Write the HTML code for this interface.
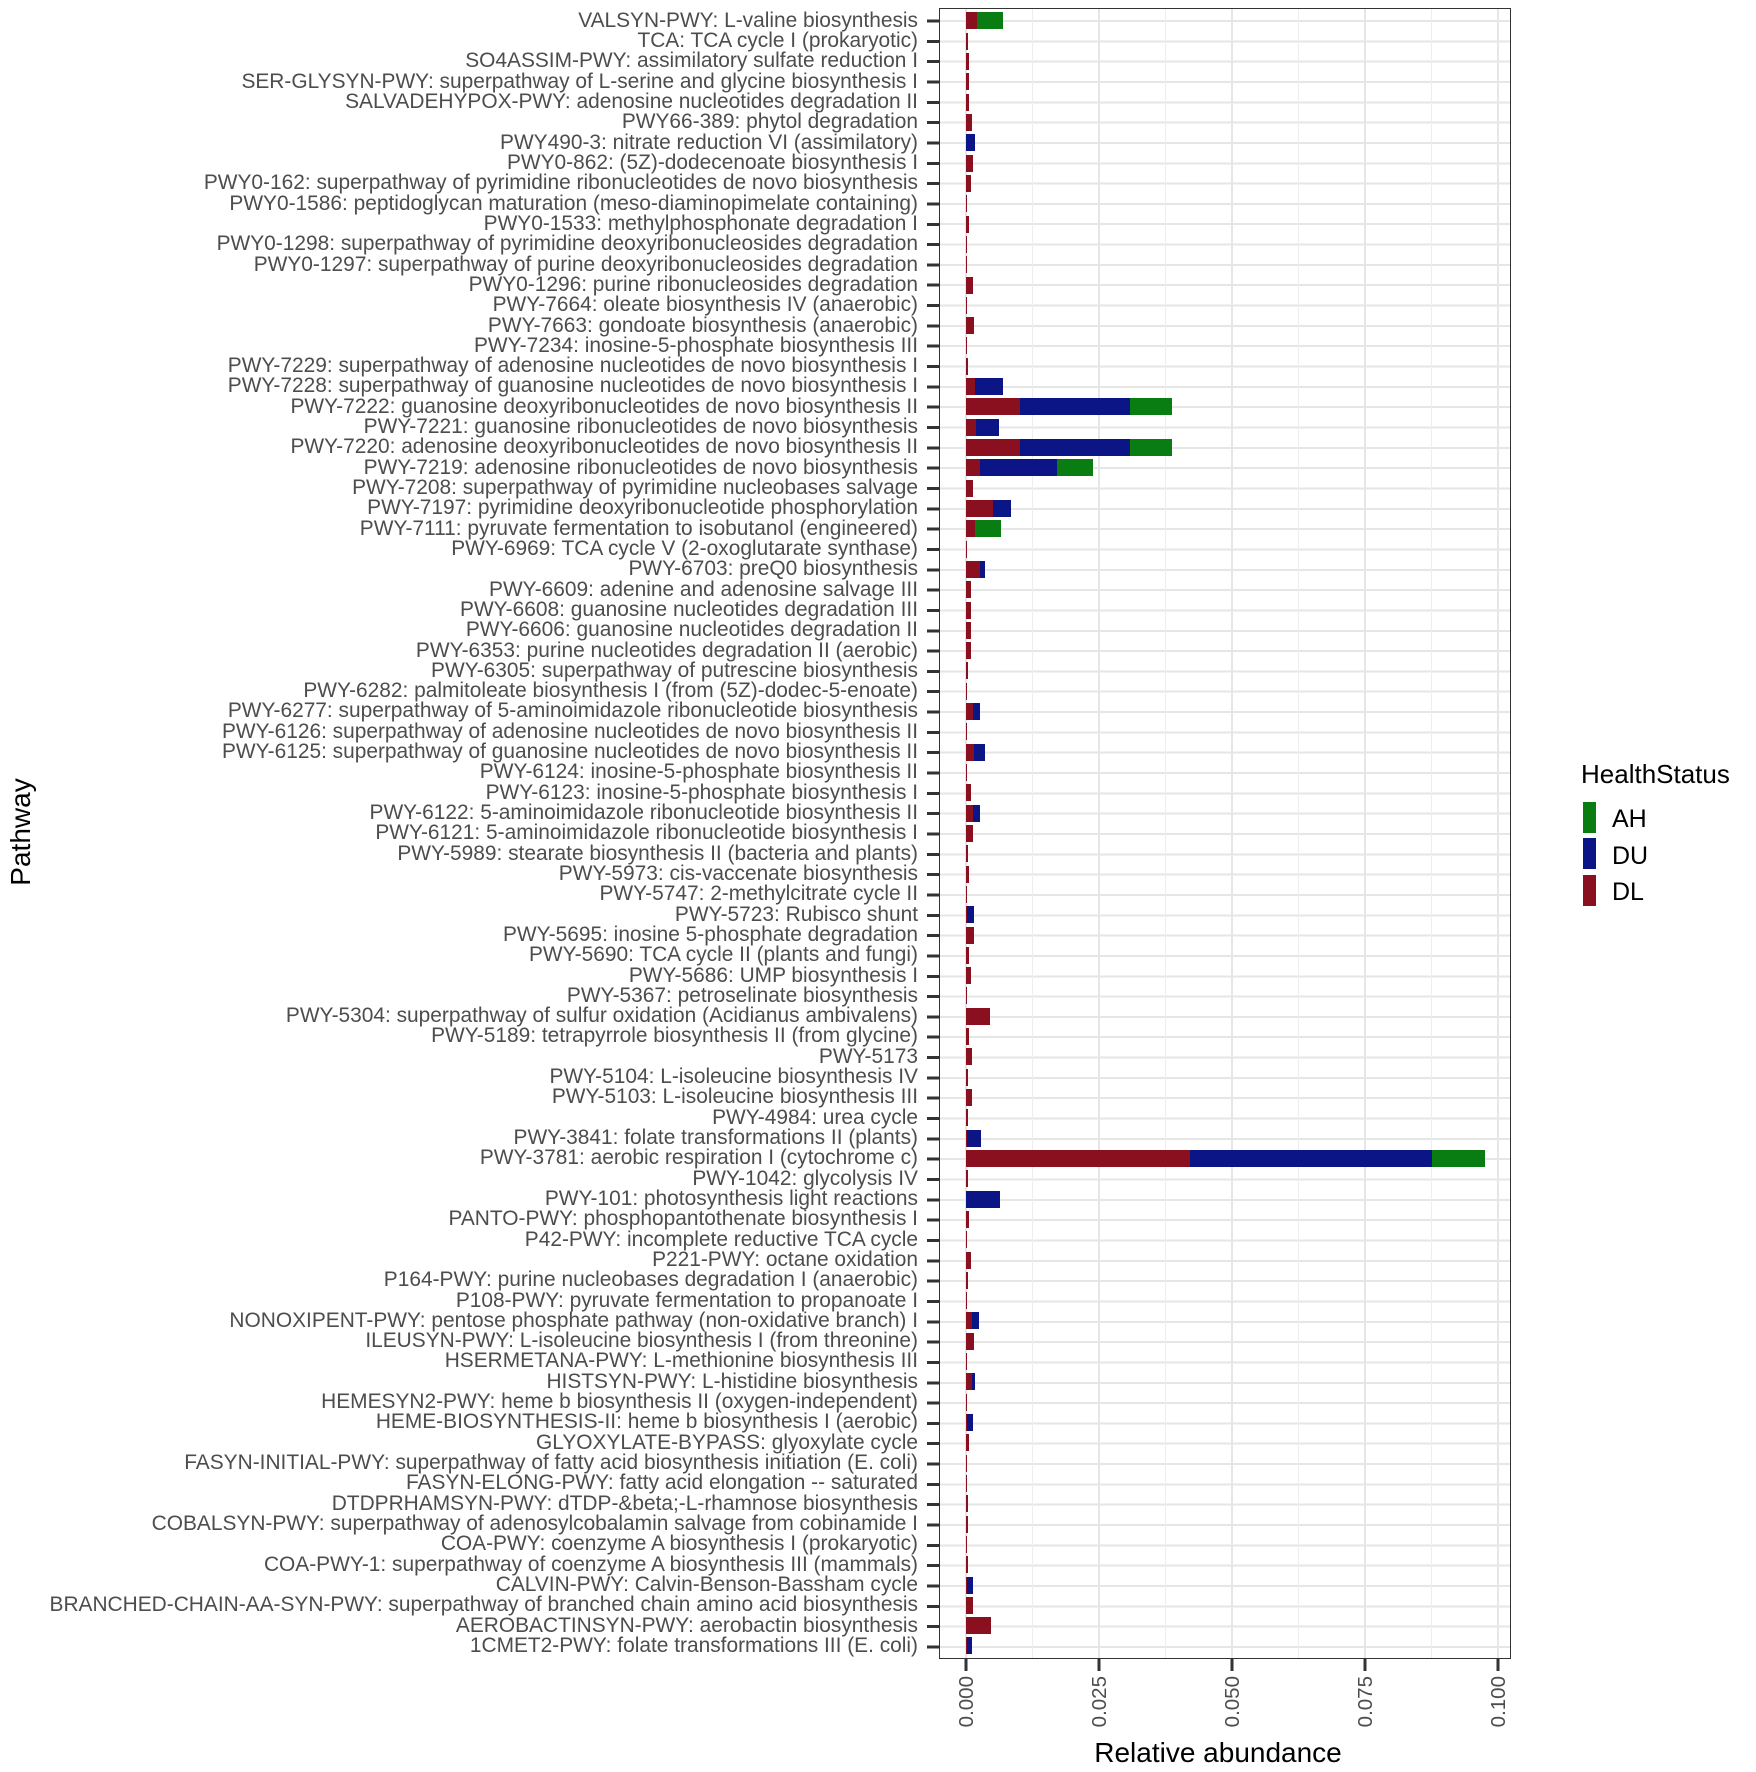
<!DOCTYPE html>
<html><head><meta charset="utf-8"><style>
body{margin:0;background:#fff;}
#c{position:relative;width:1756px;height:1772px;overflow:hidden;background:#fff;font-family:"Liberation Sans",Arial,sans-serif;}
#labels{position:absolute;right:838px;top:10.84px;text-align:right;color:#4d4d4d;font-size:20.9px;white-space:nowrap;}
#labels div{height:20.325px;line-height:20.325px;}
#ticks{position:absolute;left:927px;top:9px;width:13px;height:1649px;background:repeating-linear-gradient(to bottom,transparent 0,transparent 10.5px,#333 10.5px,#333 13.5px,transparent 13.5px,transparent 20.325px);}
#panel{position:absolute;left:940px;top:9px;width:570px;height:1649px;background:repeating-linear-gradient(to bottom,transparent 0,transparent 11px,#e6e6e6 11px,#e6e6e6 13px,transparent 13px,transparent 20.325px);}
.vM{position:absolute;top:0;height:1649px;width:2px;background:#e6e6e6;margin-left:-1px;}
.vm{position:absolute;top:0;height:1649px;width:1px;background:#eeeeee;}
#border{position:absolute;left:939px;top:8px;width:570px;height:1649px;border:1.5px solid #333;}
#bars{position:absolute;left:966px;top:10.84px;}
#bars div{height:20.325px;display:flex;align-items:center;}
#bars span{display:inline-block;height:17px;}
.a{background:#8a1020}.b{background:#0b1585}.g{background:#0a7d12}
</style></head><body><div id="c">
<div id="labels">
<div>VALSYN-PWY: L-valine biosynthesis</div>
<div>TCA: TCA cycle I (prokaryotic)</div>
<div>SO4ASSIM-PWY: assimilatory sulfate reduction I</div>
<div>SER-GLYSYN-PWY: superpathway of L-serine and glycine biosynthesis I</div>
<div>SALVADEHYPOX-PWY: adenosine nucleotides degradation II</div>
<div>PWY66-389: phytol degradation</div>
<div>PWY490-3: nitrate reduction VI (assimilatory)</div>
<div>PWY0-862: (5Z)-dodecenoate biosynthesis I</div>
<div>PWY0-162: superpathway of pyrimidine ribonucleotides de novo biosynthesis</div>
<div>PWY0-1586: peptidoglycan maturation (meso-diaminopimelate containing)</div>
<div>PWY0-1533: methylphosphonate degradation I</div>
<div>PWY0-1298: superpathway of pyrimidine deoxyribonucleosides degradation</div>
<div>PWY0-1297: superpathway of purine deoxyribonucleosides degradation</div>
<div>PWY0-1296: purine ribonucleosides degradation</div>
<div>PWY-7664: oleate biosynthesis IV (anaerobic)</div>
<div>PWY-7663: gondoate biosynthesis (anaerobic)</div>
<div>PWY-7234: inosine-5-phosphate biosynthesis III</div>
<div>PWY-7229: superpathway of adenosine nucleotides de novo biosynthesis I</div>
<div>PWY-7228: superpathway of guanosine nucleotides de novo biosynthesis I</div>
<div>PWY-7222: guanosine deoxyribonucleotides de novo biosynthesis II</div>
<div>PWY-7221: guanosine ribonucleotides de novo biosynthesis</div>
<div>PWY-7220: adenosine deoxyribonucleotides de novo biosynthesis II</div>
<div>PWY-7219: adenosine ribonucleotides de novo biosynthesis</div>
<div>PWY-7208: superpathway of pyrimidine nucleobases salvage</div>
<div>PWY-7197: pyrimidine deoxyribonucleotide phosphorylation</div>
<div>PWY-7111: pyruvate fermentation to isobutanol (engineered)</div>
<div>PWY-6969: TCA cycle V (2-oxoglutarate synthase)</div>
<div>PWY-6703: preQ0 biosynthesis</div>
<div>PWY-6609: adenine and adenosine salvage III</div>
<div>PWY-6608: guanosine nucleotides degradation III</div>
<div>PWY-6606: guanosine nucleotides degradation II</div>
<div>PWY-6353: purine nucleotides degradation II (aerobic)</div>
<div>PWY-6305: superpathway of putrescine biosynthesis</div>
<div>PWY-6282: palmitoleate biosynthesis I (from (5Z)-dodec-5-enoate)</div>
<div>PWY-6277: superpathway of 5-aminoimidazole ribonucleotide biosynthesis</div>
<div>PWY-6126: superpathway of adenosine nucleotides de novo biosynthesis II</div>
<div>PWY-6125: superpathway of guanosine nucleotides de novo biosynthesis II</div>
<div>PWY-6124: inosine-5-phosphate biosynthesis II</div>
<div>PWY-6123: inosine-5-phosphate biosynthesis I</div>
<div>PWY-6122: 5-aminoimidazole ribonucleotide biosynthesis II</div>
<div>PWY-6121: 5-aminoimidazole ribonucleotide biosynthesis I</div>
<div>PWY-5989: stearate biosynthesis II (bacteria and plants)</div>
<div>PWY-5973: cis-vaccenate biosynthesis</div>
<div>PWY-5747: 2-methylcitrate cycle II</div>
<div>PWY-5723: Rubisco shunt</div>
<div>PWY-5695: inosine 5-phosphate degradation</div>
<div>PWY-5690: TCA cycle II (plants and fungi)</div>
<div>PWY-5686: UMP biosynthesis I</div>
<div>PWY-5367: petroselinate biosynthesis</div>
<div>PWY-5304: superpathway of sulfur oxidation (Acidianus ambivalens)</div>
<div>PWY-5189: tetrapyrrole biosynthesis II (from glycine)</div>
<div>PWY-5173</div>
<div>PWY-5104: L-isoleucine biosynthesis IV</div>
<div>PWY-5103: L-isoleucine biosynthesis III</div>
<div>PWY-4984: urea cycle</div>
<div>PWY-3841: folate transformations II (plants)</div>
<div>PWY-3781: aerobic respiration I (cytochrome c)</div>
<div>PWY-1042: glycolysis IV</div>
<div>PWY-101: photosynthesis light reactions</div>
<div>PANTO-PWY: phosphopantothenate biosynthesis I</div>
<div>P42-PWY: incomplete reductive TCA cycle</div>
<div>P221-PWY: octane oxidation</div>
<div>P164-PWY: purine nucleobases degradation I (anaerobic)</div>
<div>P108-PWY: pyruvate fermentation to propanoate I</div>
<div>NONOXIPENT-PWY: pentose phosphate pathway (non-oxidative branch) I</div>
<div>ILEUSYN-PWY: L-isoleucine biosynthesis I (from threonine)</div>
<div>HSERMETANA-PWY: L-methionine biosynthesis III</div>
<div>HISTSYN-PWY: L-histidine biosynthesis</div>
<div>HEMESYN2-PWY: heme b biosynthesis II (oxygen-independent)</div>
<div>HEME-BIOSYNTHESIS-II: heme b biosynthesis I (aerobic)</div>
<div>GLYOXYLATE-BYPASS: glyoxylate cycle</div>
<div>FASYN-INITIAL-PWY: superpathway of fatty acid biosynthesis initiation (E. coli)</div>
<div>FASYN-ELONG-PWY: fatty acid elongation -- saturated</div>
<div>DTDPRHAMSYN-PWY: dTDP-&amp;beta;-L-rhamnose biosynthesis</div>
<div>COBALSYN-PWY: superpathway of adenosylcobalamin salvage from cobinamide I</div>
<div>COA-PWY: coenzyme A biosynthesis I (prokaryotic)</div>
<div>COA-PWY-1: superpathway of coenzyme A biosynthesis III (mammals)</div>
<div>CALVIN-PWY: Calvin-Benson-Bassham cycle</div>
<div>BRANCHED-CHAIN-AA-SYN-PWY: superpathway of branched chain amino acid biosynthesis</div>
<div>AEROBACTINSYN-PWY: aerobactin biosynthesis</div>
<div>1CMET2-PWY: folate transformations III (E. coli)</div>
</div>
<div id="ticks"></div>
<div id="panel">
<div class="vm" style="left:92px"></div><div class="vm" style="left:225px"></div><div class="vm" style="left:358px"></div><div class="vm" style="left:491px"></div>
<div class="vM" style="left:26px"></div><div class="vM" style="left:159px"></div><div class="vM" style="left:292px"></div><div class="vM" style="left:425px"></div><div class="vM" style="left:558px"></div>
</div>
<div id="bars">
<div><span class="a" style="width:11px"></span><span class="g" style="width:26px"></span></div>
<div><span class="a" style="width:2px"></span></div>
<div><span class="a" style="width:3px"></span></div>
<div><span class="a" style="width:3px"></span></div>
<div><span class="a" style="width:3px"></span></div>
<div><span class="a" style="width:5.5px"></span></div>
<div><span class="b" style="width:9px"></span></div>
<div><span class="a" style="width:7px"></span></div>
<div><span class="a" style="width:4.5px"></span></div>
<div><span class="a" style="width:1px"></span></div>
<div><span class="a" style="width:3px"></span></div>
<div><span class="a" style="width:1px"></span></div>
<div><span class="a" style="width:1px"></span></div>
<div><span class="a" style="width:7px"></span></div>
<div><span class="a" style="width:1px"></span></div>
<div><span class="a" style="width:8px"></span></div>
<div><span class="a" style="width:1px"></span></div>
<div><span class="a" style="width:2px"></span></div>
<div><span class="a" style="width:9px"></span><span class="b" style="width:28px"></span></div>
<div><span class="a" style="width:54px"></span><span class="b" style="width:110px"></span><span class="g" style="width:42px"></span></div>
<div><span class="a" style="width:10px"></span><span class="b" style="width:22.5px"></span></div>
<div><span class="a" style="width:54px"></span><span class="b" style="width:110px"></span><span class="g" style="width:42px"></span></div>
<div><span class="a" style="width:13.5px"></span><span class="b" style="width:77.5px"></span><span class="g" style="width:36px"></span></div>
<div><span class="a" style="width:7px"></span></div>
<div><span class="a" style="width:27px"></span><span class="b" style="width:18px"></span></div>
<div><span class="a" style="width:9px"></span><span class="g" style="width:26px"></span></div>
<div><span class="a" style="width:1px"></span></div>
<div><span class="a" style="width:13.5px"></span><span class="b" style="width:5.5px"></span></div>
<div><span class="a" style="width:4.5px"></span></div>
<div><span class="a" style="width:4.5px"></span></div>
<div><span class="a" style="width:4.5px"></span></div>
<div><span class="a" style="width:4.5px"></span></div>
<div><span class="a" style="width:2px"></span></div>
<div><span class="a" style="width:1px"></span></div>
<div><span class="a" style="width:7px"></span><span class="b" style="width:7px"></span></div>
<div><span class="a" style="width:1px"></span></div>
<div><span class="a" style="width:8px"></span><span class="b" style="width:11px"></span></div>
<div><span class="a" style="width:1px"></span></div>
<div><span class="a" style="width:4.5px"></span></div>
<div><span class="a" style="width:7px"></span><span class="b" style="width:7px"></span></div>
<div><span class="a" style="width:7px"></span></div>
<div><span class="a" style="width:2px"></span></div>
<div><span class="a" style="width:3px"></span></div>
<div><span class="a" style="width:1px"></span></div>
<div><span class="a" style="width:1px"></span><span class="b" style="width:7px"></span></div>
<div><span class="a" style="width:8px"></span></div>
<div><span class="a" style="width:3px"></span></div>
<div><span class="a" style="width:4.5px"></span></div>
<div><span class="a" style="width:1px"></span></div>
<div><span class="a" style="width:23.5px"></span></div>
<div><span class="a" style="width:3px"></span></div>
<div><span class="a" style="width:5.5px"></span></div>
<div><span class="a" style="width:2px"></span></div>
<div><span class="a" style="width:5.5px"></span></div>
<div><span class="a" style="width:2px"></span></div>
<div><span class="a" style="width:1px"></span><span class="b" style="width:13.5px"></span></div>
<div><span class="a" style="width:224px"></span><span class="b" style="width:242px"></span><span class="g" style="width:53px"></span></div>
<div><span class="a" style="width:2px"></span></div>
<div><span class="b" style="width:34px"></span></div>
<div><span class="a" style="width:3px"></span></div>
<div><span class="a" style="width:1px"></span></div>
<div><span class="a" style="width:4.5px"></span></div>
<div><span class="a" style="width:2px"></span></div>
<div><span class="a" style="width:1px"></span></div>
<div><span class="a" style="width:5.5px"></span><span class="b" style="width:7px"></span></div>
<div><span class="a" style="width:8px"></span></div>
<div><span class="a" style="width:1px"></span></div>
<div><span class="a" style="width:5.5px"></span><span class="b" style="width:3.5px"></span></div>
<div><span class="a" style="width:1px"></span></div>
<div><span class="a" style="width:1px"></span><span class="b" style="width:5.5px"></span></div>
<div><span class="a" style="width:3px"></span></div>
<div><span class="a" style="width:1px"></span></div>
<div><span class="a" style="width:1px"></span></div>
<div><span class="a" style="width:2px"></span></div>
<div><span class="a" style="width:2px"></span></div>
<div><span class="a" style="width:1px"></span></div>
<div><span class="a" style="width:2px"></span></div>
<div><span class="a" style="width:1px"></span><span class="b" style="width:5.5px"></span></div>
<div><span class="a" style="width:7px"></span></div>
<div><span class="a" style="width:24.5px"></span></div>
<div><span class="a" style="width:1px"></span><span class="b" style="width:4.5px"></span></div>
</div>
<div id="border"></div>
<svg width="1756" height="1772" style="position:absolute;left:0;top:0" font-family="Liberation Sans, Arial, sans-serif">
<g stroke="#333" stroke-width="3">
<line x1="966" y1="1658" x2="966" y2="1671"/><line x1="1099" y1="1658" x2="1099" y2="1671"/><line x1="1232" y1="1658" x2="1232" y2="1671"/><line x1="1365" y1="1658" x2="1365" y2="1671"/><line x1="1498" y1="1658" x2="1498" y2="1671"/>
</g>
<g font-size="20.5" fill="#4d4d4d" text-anchor="end">
<text transform="translate(973,1676) rotate(-90)">0.000</text>
<text transform="translate(1106,1676) rotate(-90)">0.025</text>
<text transform="translate(1239,1676) rotate(-90)">0.050</text>
<text transform="translate(1372,1676) rotate(-90)">0.075</text>
<text transform="translate(1505,1676) rotate(-90)">0.100</text>
</g>
<text x="1218" y="1762" font-size="28" text-anchor="middle" fill="#000">Relative abundance</text>
<text transform="translate(30,832) rotate(-90)" font-size="28" text-anchor="middle" fill="#000">Pathway</text>
<text x="1581" y="783" font-size="26" fill="#000">HealthStatus</text>
<rect x="1583" y="802" width="13" height="31" fill="#0a7d12"/>
<rect x="1583" y="838" width="13" height="31" fill="#0b1585"/>
<rect x="1583" y="875" width="13" height="31" fill="#8a1020"/>
<g font-size="25" fill="#000">
<text x="1612" y="827">AH</text>
<text x="1612" y="864">DU</text>
<text x="1612" y="900">DL</text>
</g>
</svg>
</div></body></html>
